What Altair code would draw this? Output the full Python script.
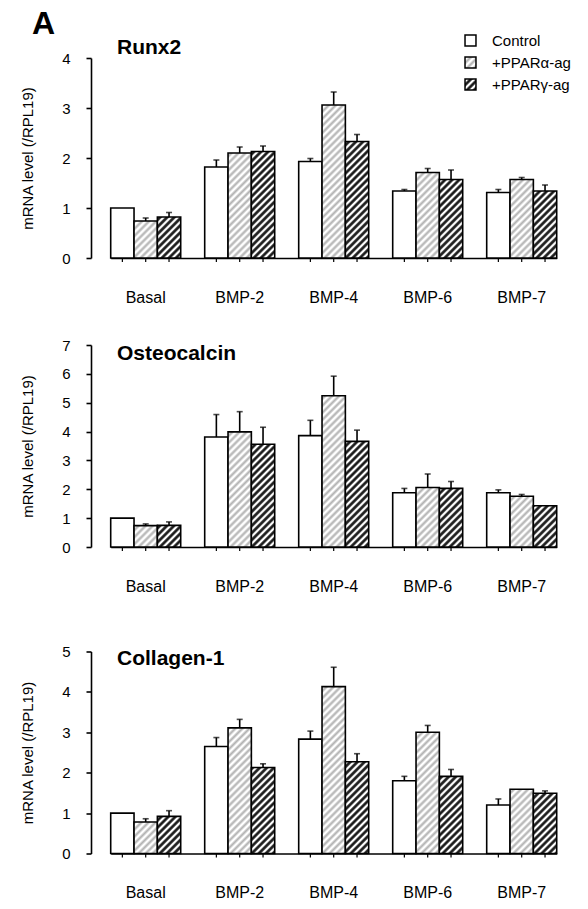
import altair as alt
import pandas as pd
from altair.utils.html import TEMPLATES

# ---- data -------------------------------------------------------------
groups = ["Basal", "BMP-2", "BMP-4", "BMP-6", "BMP-7"]
series = ["Control", "+PPARα-ag", "+PPARγ-ag"]

runx2_ctrl = [1.00, 1.82, 1.93, 1.34, 1.31]
runx2_alpha = [0.74, 2.10, 3.06, 1.71, 1.57]
runx2_gamma = [0.82, 2.13, 2.33, 1.57, 1.34]
runx2_err_ctrl = [0.00, 0.14, 0.06, 0.03, 0.06]
runx2_err_alpha = [0.06, 0.12, 0.26, 0.08, 0.04]
runx2_err_gamma = [0.09, 0.11, 0.14, 0.19, 0.12]

ocn_ctrl = [1.00, 3.81, 3.86, 1.88, 1.88]
ocn_alpha = [0.74, 3.99, 5.24, 2.06, 1.76]
ocn_gamma = [0.75, 3.56, 3.66, 2.03, 1.43]
ocn_err_ctrl = [0.00, 0.78, 0.53, 0.15, 0.10]
ocn_err_alpha = [0.06, 0.70, 0.68, 0.47, 0.06]
ocn_err_gamma = [0.12, 0.59, 0.39, 0.24, 0.00]

col1_ctrl = [1.00, 2.65, 2.83, 1.80, 1.20]
col1_alpha = [0.78, 3.11, 4.13, 3.00, 1.59]
col1_gamma = [0.92, 2.13, 2.27, 1.91, 1.49]
col1_err_ctrl = [0.00, 0.22, 0.20, 0.11, 0.15]
col1_err_alpha = [0.08, 0.21, 0.48, 0.17, 0.00]
col1_err_gamma = [0.14, 0.09, 0.20, 0.17, 0.06]

# ---- style ------------------------------------------------------------
FONT = "Liberation Sans"
PLOT_W = 475
LINE = 1.6

# diagonal hatch fills used by the bars and legend symbols
PATTERN_DEFS = """
<svg width="0" height="0" style="position:absolute;left:0;top:0">
  <defs>
    <pattern id="hatch-alpha" patternUnits="userSpaceOnUse" width="5" height="5"
             patternTransform="rotate(45)">
      <rect width="5" height="5" fill="#ffffff"/>
      <line x1="1.5" y1="-1" x2="1.5" y2="6" stroke="#b2b2b2" stroke-width="2.2"/>
    </pattern>
    <pattern id="hatch-gamma" patternUnits="userSpaceOnUse" width="5" height="5"
             patternTransform="rotate(45)">
      <rect width="5" height="5" fill="#ffffff"/>
      <line x1="1.5" y1="-1" x2="1.5" y2="6" stroke="#111111" stroke-width="2.6"/>
    </pattern>
  </defs>
</svg>
"""
FILLS = ["#ffffff", "url(#hatch-alpha)", "url(#hatch-gamma)"]


class PatternPage:
    """Standard Altair page with the hatch pattern definitions added to the body."""

    def render(self, **kwargs):
        html = TEMPLATES["standard"].render(**kwargs)
        return html.replace("<body>", "<body>" + PATTERN_DEFS, 1)


def make_frame(ctrl, alpha, gamma, e_ctrl, e_alpha, e_gamma):
    rows = []
    for s, vals, errs in zip(series, [ctrl, alpha, gamma], [e_ctrl, e_alpha, e_gamma]):
        for g, v, e in zip(groups, vals, errs):
            rows.append({"group": g, "series": s, "value": v, "err": e, "upper": round(v + e, 3)})
    return pd.DataFrame(rows)


def panel(name, frame, ymax, height, title_y, with_legend=False):
    y_axis = alt.Axis(
        title="mRNA level (/RPL19)",
        titleFont=FONT, titleFontSize=15, titleFontWeight="normal", titleColor="black",
        titlePadding=26,
        values=[i * 0.5 for i in range(2 * ymax + 1)],
        format="d",
        labelExpr="datum.value % 1 ? '' : datum.label",
        labelOverlap=False,
        labelFont=FONT, labelFontSize=15, labelColor="black", labelPadding=16,
        tickSize={"condition": {"test": "datum.value % 1 !== 0", "value": 3}, "value": 5},
        tickColor="black", tickWidth=LINE,
        domainColor="black", domainWidth=LINE, grid=False,
    )
    x_axis = alt.Axis(
        title=None, ticks=False, labelAngle=0, labelPadding=31,
        labelFont=FONT, labelFontSize=16, labelColor="black",
        domainColor="black", domainWidth=LINE,
    )
    x_enc = alt.X(
        "group:N", sort=groups, axis=x_axis,
        scale=alt.Scale(range=[19.7, 465.7], paddingInner=24 / 94, paddingOuter=0),
    )
    off_enc = alt.XOffset("series:N", sort=series,
                          scale=alt.Scale(paddingInner=0, paddingOuter=0))
    y_scale = alt.Scale(domain=[0, ymax], nice=False, zero=True)

    base = alt.Chart(frame).encode(x=x_enc, xOffset=off_enc)

    # small ticks under each bar centre
    under_ticks = base.mark_rule(color="black", strokeWidth=1.2).encode(
        y=alt.value(height), y2=alt.value(height + 4)
    )

    legend = None
    if with_legend:
        legend = alt.Legend(
            title=None, orient="none", legendX=372, legendY=-25, padding=0,
            symbolType="square", symbolSize=120, symbolStrokeColor="black",
            symbolStrokeWidth=1.5, labelFont=FONT, labelFontSize=15,
            labelColor="black", labelOffset=14, rowPadding=5,
        )

    bars = base.mark_bar(stroke="black", strokeWidth=LINE).encode(
        y=alt.Y("value:Q", scale=y_scale, axis=y_axis),
        fill=alt.Fill("series:N", sort=series,
                      scale=alt.Scale(domain=series, range=FILLS), legend=legend),
    )

    err = base.transform_filter("datum.err > 0")
    stems = err.mark_rule(color="black", strokeWidth=LINE).encode(
        y=alt.Y("value:Q", scale=y_scale, axis=y_axis), y2="upper:Q"
    )
    caps = err.mark_tick(color="black", orient="horizontal", size=6, thickness=1.6).encode(
        y=alt.Y("upper:Q", scale=y_scale, axis=y_axis)
    )

    label = alt.Chart(pd.DataFrame({"name": [name]})).mark_text(
        align="left", baseline="alphabetic", font=FONT, fontSize=21,
        fontWeight="bold", color="black",
    ).encode(x=alt.value(26), y=alt.value(title_y), text="name:N")

    layers = [under_ticks, bars, stems, caps, label]
    if with_legend:
        letter = alt.Chart(pd.DataFrame({"name": ["A"]})).mark_text(
            align="left", baseline="alphabetic", font=FONT, fontSize=32,
            fontWeight="bold", color="black",
        ).encode(x=alt.value(-59), y=alt.value(-24), text="name:N")
        layers.append(letter)

    return alt.layer(*layers).properties(width=PLOT_W, height=height).resolve_scale(
        fill="independent"
    )


p1 = panel("Runx2",
           make_frame(runx2_ctrl, runx2_alpha, runx2_gamma,
                      runx2_err_ctrl, runx2_err_alpha, runx2_err_gamma),
           ymax=4, height=200, title_y=-4, with_legend=True)
p2 = panel("Osteocalcin",
           make_frame(ocn_ctrl, ocn_alpha, ocn_gamma,
                      ocn_err_ctrl, ocn_err_alpha, ocn_err_gamma),
           ymax=7, height=202, title_y=15)
p3 = panel("Collagen-1",
           make_frame(col1_ctrl, col1_alpha, col1_gamma,
                      col1_err_ctrl, col1_err_alpha, col1_err_gamma),
           ymax=5, height=202, title_y=13)

chart = (
    alt.vconcat(alt.vconcat(p1, p2, spacing=33), p3, spacing=50.5)
    .resolve_scale(fill="independent")
    .resolve_legend(fill="independent")
    .properties(padding={"left": 20, "top": 8, "right": 2, "bottom": 2}, background="white")
    .configure_view(stroke=None)
)

chart.save("out.html", embed_options={"renderer": "svg", "actions": False},
           template=PatternPage())
